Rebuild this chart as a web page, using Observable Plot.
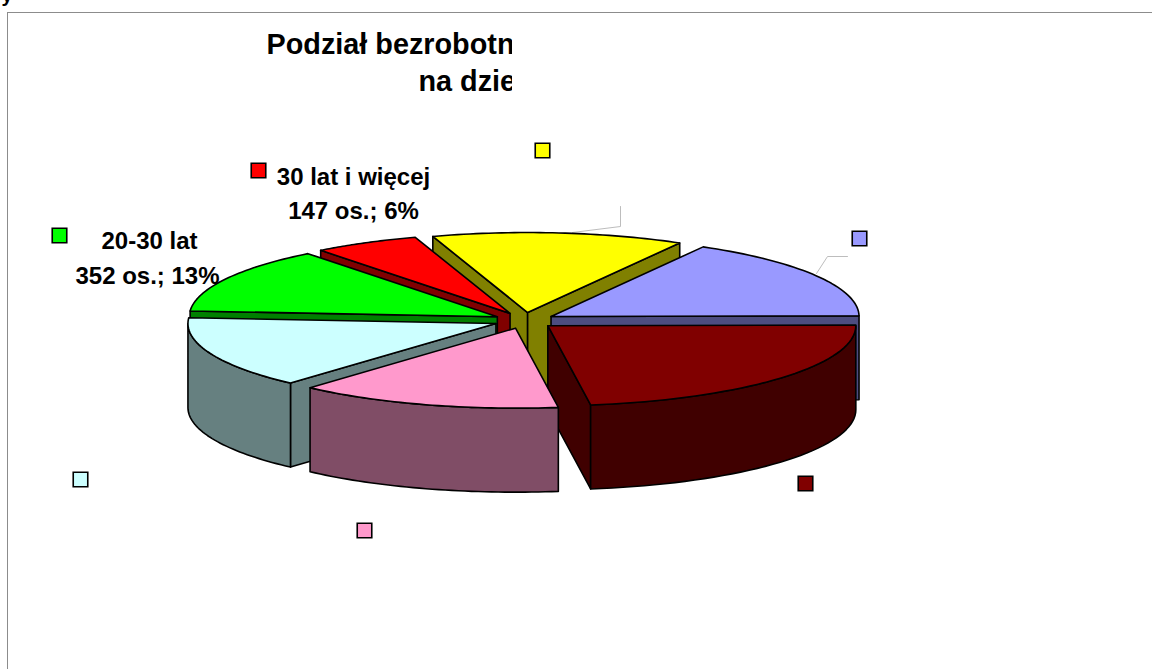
<!DOCTYPE html>
<html>
<head>
<meta charset="utf-8">
<style>html,body{margin:0;padding:0;background:#fff}svg{display:block}</style>
<script src="https://cdn.jsdelivr.net/npm/d3@7"></script>
<script src="https://cdn.jsdelivr.net/npm/@observablehq/plot@0.6"></script>
</head>
<body>
<script>
// Slices, clockwise from the 3 o'clock position. Only two labels are readable in the source.
const categories = ["kategoria A", "kategoria B", "kategoria C", "20-30 lat", "30 lat i więcej", "kategoria D", "kategoria E"];
const values = [606, 366, 384, 352, 147, 349, 440];
const topColors = ["#800000", "#ff99cc", "#ccffff", "#00ff00", "#ff0000", "#ffff00", "#9999ff"];
const sideColors = ["#400000", "#804d66", "#668080", "#008000", "#800000", "#808000", "#4d4d80"];
const paintOrder = ["kategoria D", "kategoria E", "30 lat i więcej", "20-30 lat", "kategoria C", "kategoria A", "kategoria B"];

const titleLines = ["Podział bezrobotn", "na dzie"];
const labelLines = ["30 lat i więcej", "147 os.; 6%", "20-30 lat", "352 os.; 13%"];

// Layout of the drawing
const pie = {cx: 524, cy: 320, rx: 308, ry: 80, depth: 84, explode: 0.1, start: -0.5};
const keyX = [805, 364, 80, 59, 258, 542, 859];
const keyY = [483, 530, 479, 235, 170, 150, 238];
const labelX = [353, 353, 149, 147];
const labelY = [177, 211, 241, 276];
const leaders = [
  {id: "a", xs: [620, 620, 572], ys: [206, 226, 232]},
  {id: "b", xs: [847, 827, 816], ys: [256, 256, 273]}
];

const rad = Math.PI / 180;
const total = d3.sum(values);
let cursor = pie.start;
const slices = categories.map((name, i) => {
  const a0 = cursor;
  const a1 = cursor + values[i] / total * 360;
  cursor = a1;
  return {name, a0, a1, top: topColors[i], side: sideColors[i]};
});

function facesOf(s) {
  const mid = (s.a0 + s.a1) / 2 * rad;
  const ox = pie.cx + pie.explode * pie.rx * Math.cos(mid);
  const oy = pie.cy + pie.explode * pie.ry * Math.sin(mid);
  const at = (deg, h = 0) => [ox + pie.rx * Math.cos(deg * rad), oy + pie.ry * Math.sin(deg * rad) + h];
  const arc = (from, to, h = 0) => d3.range(0, 41).map(k => at(from + (to - from) * k / 40, h));
  const faces = [];
  // Cut faces, only those turned towards the viewer
  if (Math.cos(s.a0 * rad) < 0) {
    const p = at(s.a0);
    faces.push([[ox, oy], p, [p[0], p[1] + pie.depth], [ox, oy + pie.depth]]);
  }
  if (Math.cos(s.a1 * rad) > 0) {
    const p = at(s.a1);
    faces.push([[ox, oy], p, [p[0], p[1] + pie.depth], [ox, oy + pie.depth]]);
  }
  // Outer wall, front half only
  const f0 = Math.max(s.a0, 0), f1 = Math.min(s.a1, 180);
  if (f1 > f0) faces.push([...arc(f0, f1), ...arc(f1, f0, pie.depth)]);
  const rows = faces.map(pts => ({pts, fill: s.side}));
  rows.push({pts: [[ox, oy], ...arc(s.a0, s.a1)], fill: s.top});
  return rows;
}

const facePoints = [];
paintOrder.forEach(name => {
  const s = slices.find(d => d.name === name);
  facesOf(s).forEach((f, j) => {
    f.pts.forEach(p => facePoints.push({id: name + j, x: p[0], y: p[1], fill: f.fill}));
  });
});

const leaderPoints = leaders.flatMap(l => l.xs.map((x, i) => ({id: l.id, x, y: l.ys[i]})));
const font = "'Liberation Sans', Arial, sans-serif";

const chart = Plot.plot({
  width: 1152,
  height: 669,
  margin: 0,
  style: {background: "#fff"},
  x: {domain: [0, 1152], range: [0, 1152], axis: null},
  y: {domain: [0, 669], range: [0, 669], axis: null},
  color: {type: "identity"},
  marks: [
    // Frame
    Plot.ruleY([12], {x1: 7, x2: 1152, stroke: "#8c8c8c", strokeWidth: 1}),
    Plot.ruleX([7], {y1: 12, y2: 669, stroke: "#8c8c8c", strokeWidth: 1}),
    Plot.text(["y"], {x: [1], y: [-5], text: d => d, textAnchor: "start", fontFamily: font, fontWeight: "bold", fontSize: 20, fill: "#000"}),
    // Title, cut off by a white panel as in the source
    Plot.text(titleLines, {x: [266, 418], y: [44, 81], text: d => d, textAnchor: "start", fontFamily: font, fontWeight: "bold", fontSize: 28.8, fill: "#000"}),
    Plot.rect([0], {x1: [512], x2: [700], y1: [20], y2: [100], fill: "#fff"}),
    // Leader lines
    Plot.line(leaderPoints, {x: "x", y: "y", z: "id", stroke: "#bdbdbd", strokeWidth: 1}),
    // Pie
    Plot.line(facePoints, {x: "x", y: "y", z: "id", fill: "fill", stroke: "#000", strokeWidth: 1.6, strokeLinejoin: "round", curve: "linear-closed"}),
    // Legend keys
    Plot.dot(d3.range(keyX.length), {x: i => keyX[i], y: i => keyY[i], symbol: "square", r: 8.2, fill: i => topColors[i], stroke: "#000", strokeWidth: 1.6}),
    // Data labels
    Plot.text(labelLines, {x: labelX, y: labelY, text: d => d, textAnchor: "middle", fontFamily: font, fontWeight: "bold", fontSize: 24, fill: "#000"})
  ]
});
document.body.appendChild(chart);
</script>
</body>
</html>
